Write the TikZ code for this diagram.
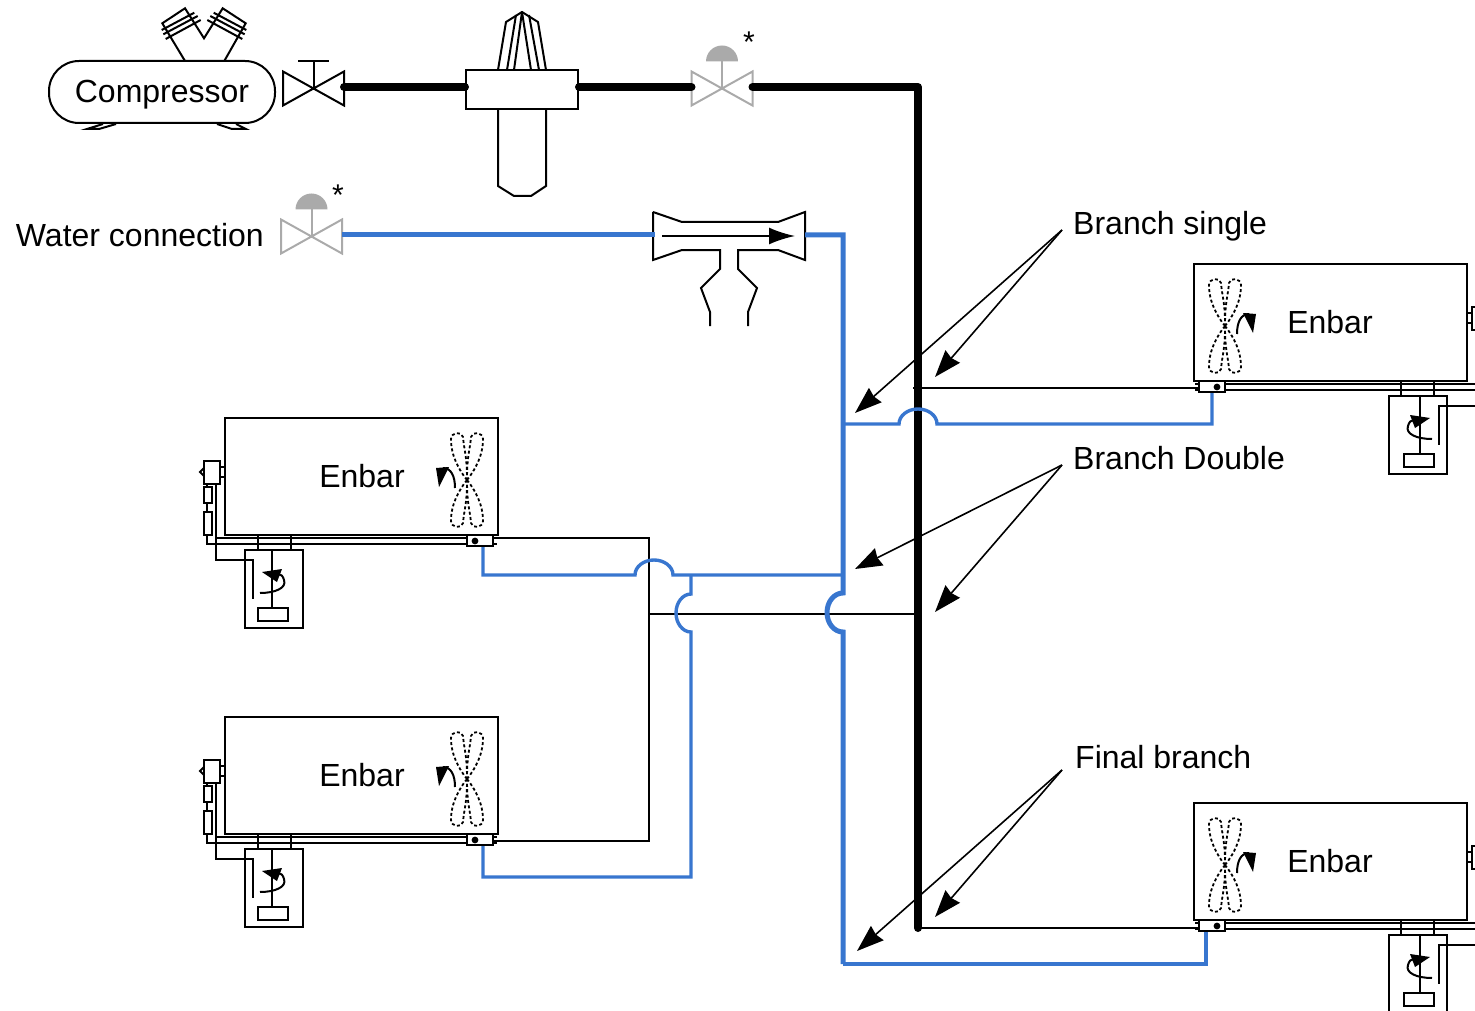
\documentclass[tikz,border=0pt]{standalone}
\usepackage{fontspec}
\setmainfont{Liberation Sans}
\usepackage{xcolor}
\usetikzlibrary{arrows.meta}
\definecolor{waterblue}{RGB}{56,118,207}
\definecolor{valvegrey}{RGB}{170,170,170}
\tikzset{
    label text/.style={font=\fontsize{32}{34}\selectfont, inner sep=0pt},
    star text/.style={font=\fontsize{30}{32}\selectfont, inner sep=0pt},
    part/.style={line width=2pt, black, line join=miter},
    steelpipe/.style={line width=8pt, black, line cap=round, line join=round},
    thinpipe/.style={line width=2pt, black},
    waterpipe/.style={line width=5pt, waterblue},
    waterbranch/.style={line width=3.4pt, waterblue},
    pointer/.style={line width=1.6pt, -{Stealth[length=27pt, width=19pt, inset=2pt]}},
    fan line/.style={line width=1.8pt, dash pattern=on 3pt off 2.4pt},
    % valve body with its two ends
    pics/valvebody/.style={code={
        \draw[line width=2pt, #1] (-30.5,-17) -- (30.5,17) -- (30.5,-17) -- (-30.5,17) -- cycle;
        \coordinate (-west) at (-30.5,-1.5);
        \coordinate (-east) at (30.5,-1.5);
    }},
    pics/controlvalve/.style={code={
        \pic (-body) {valvebody=valvegrey};
        \draw[line width=2pt, valvegrey] (0,0) -- (0,-27);
        \fill[valvegrey] (-16,-27) arc[start angle=180, end angle=360, radius=16] -- cycle;
    }},
    pics/enbarunit/.style={code={
        % casing and fan
        \draw[part] (0,0) rectangle (273,117);
        \node[label text] (-name) at (137,58) {Enbar};
        \foreach \sx in {1,-1} {
            \foreach \sy in {1,-1} {
                \draw[fan line, shift={(242,62)}, xscale=\sx, yscale=\sy] (0,0)
                    .. controls (-8,-10) and (-16,-24) .. (-16,-41)
                    .. controls (-16,-48) and (-5,-49) .. (-4,-43)
                    .. controls (-3,-30) and (0,-25) .. (0,0);
            }
        }
        \draw[part] (230,70) .. controls (230,58) and (226,50) .. (218,50);
        \fill (214,69) -- (211,50) -- (224,49) -- cycle;
        % rails and valve
        \draw[thinpipe] (-9,66) -- (-9,120) -- (242,120);
        \draw[thinpipe] (-18,117) -- (-18,126) -- (242,126);
        \draw[thinpipe] (-9,120) -- (-9,142) -- (28,142) -- (28,181);
        \node[draw, line width=2pt, fill=white, inner sep=0pt, minimum width=26pt, minimum height=11pt] (-valve) at (255,122.5) {};
        \fill (250,123) circle (3.4);
        \draw[thinpipe] (268,120) -- (272,120) (268,126) -- (272,126);
        \coordinate (-tap) at (268,120);
        % parts on the end of the casing
        \draw[part, fill=white] (-21,43) rectangle (-5,66);
        \draw[part] (-21,50) -- (-25,54) -- (-21,58);
        \draw[part] (-5,49) -- (0,49) (-5,59) -- (0,59);
        \draw[part] (-21,69) rectangle (-13,85);
        \draw[part] (-21,94) rectangle (-13,117);
        \draw[part] (-18,66) -- (-18,69) (-18,85) -- (-18,94);
        % motor box
        \draw[part] (20,132) rectangle (78,210);
        \draw[part] (33,117) -- (33,132) (66,117) -- (66,132);
        \draw[part] (47,132) -- (47,190);
        \draw[part] (33,190) rectangle (63,203);
        \draw[part] (35,175) .. controls (50,175) and (62,170) .. (59,162) .. controls (58,158) and (56,156) .. (53,156);
        \fill (37,154) -- (57,151) -- (52,164) -- cycle;
    }},
}
\begin{document}
\begin{tikzpicture}[x=1pt, y=-1pt]
    \clip (0,0) rectangle (1475,1011);

    % Compressor with its cylinders and feet
    \node[draw, line width=2pt, rounded corners=30pt, minimum width=226pt, minimum height=62pt, inner sep=0pt, label text, text height=24pt, text depth=2pt] (compressor) at (162,92) {Compressor};
    \draw[part] (185,61) -- (162.3,23.3) -- (185,8.3) -- (204,38.3) -- (222.7,8.3) -- (245.7,23.3) -- (224.3,61);
    \draw[part] (161.7,30) -- (194.3,12.7) (163.3,34.3) -- (197.7,16) (165.7,39) -- (200.7,20);
    \draw[part] (246.3,30) -- (213.7,12.7) (244.7,34.3) -- (210.3,16) (242.3,39) -- (207.3,20);
    \draw[part] (116,124) -- (99,129) -- (87,129) -- (103,124);
    \draw[part] (217,124) -- (232,129) -- (246,129) -- (236,124);

    % Valves
    \pic (stopvalve) at (313.5,88.5) {valvebody=black};
    \draw[part] (313.5,88.5) -- (313.5,61) (298,61) -- (329,61);
    \pic (steelvalve) at (722,88.5) {controlvalve};
    \node[star text] (steelstar) at (749,42) {*};
    \pic (watervalve) at (311.5,236.5) {controlvalve};
    \node[star text] (waterstar) at (338,195) {*};
    \node[label text, anchor=east] (waterlabel) at (264,235) {Water connection};

    % Separator
    \node[draw, line width=2pt, fill=white, minimum width=112pt, minimum height=39pt, inner sep=0pt] (separator) at (522,89.5) {};
    \draw[part, line join=round] (498,70) -- (506,22) -- (522,12) -- (538,22) -- (546,70);
    \draw[part, line join=round] (507,70) -- (516,15) (514,70) -- (522,12) -- (531,70) (539,70) -- (529,15);
    \draw[part] (498,109) -- (498,186) -- (514,196) -- (531,196) -- (546,186) -- (546,109);

    % Ejector
    \draw[part] (653,212) -- (682,222) -- (778,222) -- (805,212) -- (805,260) -- (778,250) -- (738,250) -- (738,269) -- (757,288) -- (748,312) -- (748,326);
    \draw[part] (653,212) -- (653,260) -- (682,250) -- (720,250) -- (720,269) -- (701,288) -- (710,312) -- (710,326);
    \coordinate (ejectorin) at (655,235);
    \coordinate (ejectorout) at (805,235);
    \draw[part, -{Latex[length=26pt, width=17pt]}] (662,236) -- (795,236);

    % Enbar units
    \pic (unitleft) at (225,418) {enbarunit};
    \pic (unitlower) at (225,717) {enbarunit};
    \pic[xscale=-1] (unitright) at (1467,264) {enbarunit};
    \pic[xscale=-1] (unitfinal) at (1467,803) {enbarunit};

    % Steel pipe
    \coordinate (mainbend) at (918,87);
    \coordinate (mainend) at (918,928);
    \coordinate (collector) at (649,614);
    \draw[steelpipe] (stopvalve-east) -- (stopvalve-east -| separator.west);
    \draw[steelpipe] (steelvalve-body-west -| separator.east) -- (steelvalve-body-west);
    \draw[steelpipe] (steelvalve-body-east) -- (mainbend) -- (mainend);
    \draw[thinpipe] ([xshift=-5pt, yshift=-1pt]unitright-valve.west -| mainbend) -- ([yshift=-1pt]unitright-valve.west);
    \draw[thinpipe] (mainend) -- (mainend -| unitfinal-valve.west);
    \draw[thinpipe] (mainbend |- collector) -- (collector);
    \draw[thinpipe] (unitleft-tap) -| (collector) |- ([yshift=-1.5pt]unitlower-valve.east);

    % Water pipe
    \coordinate (waterfoot) at (843,964);
    \draw[waterpipe] (watervalve-body-east) -- (ejectorin);
    \draw[waterpipe] (ejectorout) -- (843,235) -- (843,593) arc[start angle=270, end angle=90, x radius=16, y radius=19.5] -- (waterfoot);
    \draw[waterbranch] (waterfoot) -| ([xshift=-6pt]unitfinal-valve.south);
    \draw[waterbranch] (843,424) -- (899,424) arc[start angle=180, end angle=360, x radius=19, y radius=15] -| (unitright-valve.south);
    \draw[waterbranch] (843,575) -- (673,575) arc[start angle=360, end angle=180, x radius=19, y radius=15] -| ([xshift=3pt]unitleft-valve.south);
    \draw[waterbranch] (691,575) -- (691,594) arc[start angle=270, end angle=90, x radius=15, y radius=19] -- (691,877) -| ([xshift=3pt]unitlower-valve.south);

    % Branch labels
    \node[label text, anchor=west] (single) at (1073,226.5) {Branch single};
    \node[label text, anchor=west] (double) at (1073,458) {Branch Double};
    \node[label text, anchor=west] (final) at (1075,757) {Final branch};
    \coordinate (singlefan) at (1062,230);
    \coordinate (doublefan) at (1062,465);
    \coordinate (finalfan) at (1062,770);
    \coordinate (singleblue) at (855,413);
    \coordinate (singlesteel) at (935,377);
    \coordinate (doubleblue) at (855,569);
    \coordinate (doublesteel) at (935,612);
    \coordinate (finalblue) at (857,951);
    \coordinate (finalsteel) at (935,917);
    \draw[pointer] (singlefan) -- (singleblue);
    \draw[pointer] (singlefan) -- (singlesteel);
    \draw[pointer] (doublefan) -- (doubleblue);
    \draw[pointer] (doublefan) -- (doublesteel);
    \draw[pointer] (finalfan) -- (finalblue);
    \draw[pointer] (finalfan) -- (finalsteel);
\end{tikzpicture}
\end{document}
